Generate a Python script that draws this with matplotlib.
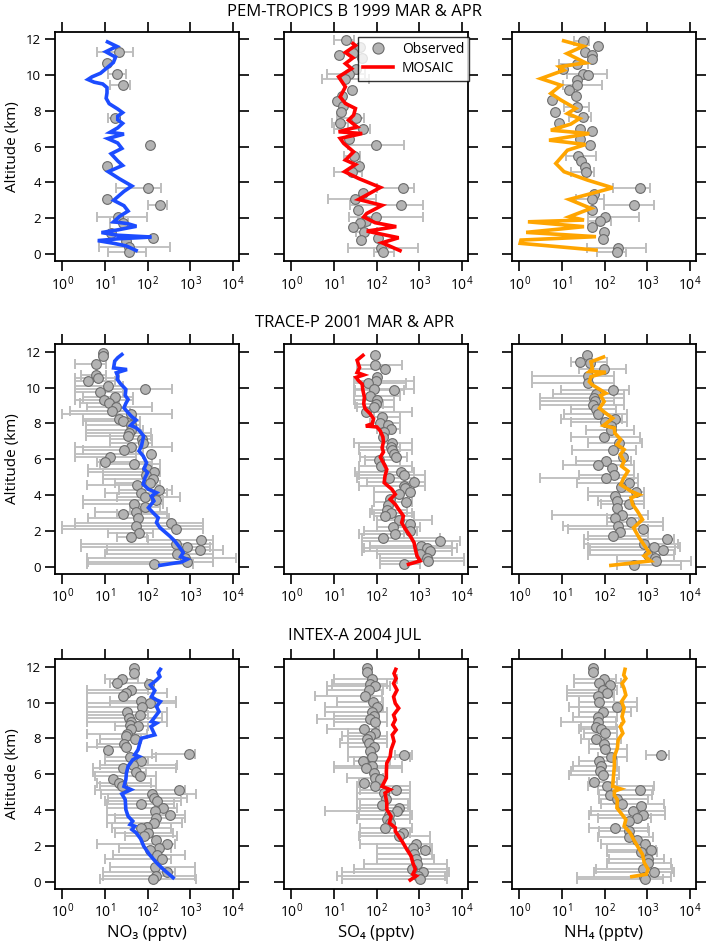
import numpy as np
import matplotlib
matplotlib.use("Agg")
import matplotlib.pyplot as plt
from matplotlib.ticker import NullLocator
from matplotlib.lines import Line2D

plt.rcParams['font.family'] = ['Open Sans', 'DejaVu Sans']
plt.rcParams['mathtext.default'] = 'regular'
plt.rcParams['mathtext.fontset'] = 'custom'
plt.rcParams['mathtext.rm'] = 'Open Sans'

nan = np.nan

# ---------------- Titles / labels ----------------
row_titles = ["PEM-TROPICS B 1999 MAR & APR", "TRACE-P 2001 MAR & APR", "INTEX-A 2004 JUL"]
col_labels = ["NO₃ (pptv)", "SO₄ (pptv)", "NH₄ (pptv)"]
model_colors = ["#1c4cff", "#ff0000", "#ffa500"]
x_ticks = [1, 10, 100, 1000, 10000]
y_ticks = [0, 2, 4, 6, 8, 10, 12]

# ================= PEM-TROPICS B =================
pem_no3_alt = [11.29, 10.68, 10.07, 9.45, 7.61, 6.08, 4.91, 3.70, 3.05, 2.72, 2.07, 1.75, 1.19, 0.91, 0.74, 0.37, 0.09]
pem_no3_val = [22, 11, 19, 26, 17, 113, 11, 104, 11.4, 194, 20, 26, 14, 131, 32, 37, 37]
pem_no3_lo = [6.7, nan, 12, 13, 12, nan, nan, 18, nan, 100, 6.7, 13, nan, nan, nan, 7.2, 12]
pem_no3_hi = [45, nan, 31, 39, 23, nan, nan, 212, nan, 280, 95, 35, nan, nan, nan, 333, 91]
pem_no3_mod_alt = [11.85, 11.6, 11.3, 11.0, 10.7, 10.4, 10.1, 9.9, 9.75, 9.6, 9.5, 9.3, 9.0, 8.7, 8.4, 8.1, 7.9, 7.7, 7.5, 7.3, 7.05, 6.8, 6.7, 6.45, 6.2, 5.9, 5.6, 5.2, 4.95, 4.6, 4.2, 3.8, 3.5, 3.2, 3.0, 2.7, 2.4, 2.1, 1.8, 1.7, 1.55, 1.35, 1.2, 1.05, 0.95, 0.85, 0.75, 0.6, 0.45, 0.2]
pem_no3_mod_val = [11.5, 19, 10.5, 17.8, 15.8, 11.2, 7.9, 5.0, 4.0, 5.6, 8.9, 11.2, 11.2, 10.7, 12.6, 20, 26, 20, 20, 26, 20, 13.2, 28, 11.7, 20, 25, 14, 20, 26, 12, 22, 43, 28, 20, 16, 28, 35, 22, 16, 34, 55, 20, 8.3, 20, 123, 20, 6.8, 16, 32, 54]

pem_so4_alt = [11.94, 11.57, 11.24, 11.14, 10.96, 10.36, 10.08, 9.75, 9.15, 8.84, 8.56, 8.26, 7.94, 7.61, 7.33, 7.01, 6.42, 6.08, 5.49, 4.93, 4.60, 3.70, 3.39, 3.05, 2.72, 2.44, 2.07, 1.84, 1.75, 1.51, 1.25, 0.91, 0.78, 0.32, 0.13]
pem_so4_val = [19.5, 40, 28, 13, 46, 33, 23, 18.5, 26.5, 15.4, 11.7, 16.3, 14.8, 33, 14, 48, 23, 98, 29, 39, 26, 415, 48, 32, 380, 36, 96, 57, 41, 28, 52, 107, 44, 126, 145]
pem_so4_lo = [9.8, nan, nan, nan, nan, nan, 6.9, 5.2, nan, nan, nan, nan, nan, 11.7, 8.9, 9.8, nan, 22, 17, nan, 9.8, 100, nan, 7.1, 24, nan, 23, 36, nan, nan, 33, nan, nan, 22, 85]
pem_so4_hi = [29, nan, nan, nan, nan, nan, 54, 68, nan, nan, nan, nan, nan, 50, 22, 71, nan, 450, 42, nan, 46, 740, nan, 95, 1230, nan, 1230, 70, nan, nan, 100, nan, nan, 950, 250]
pem_so4_mod_alt = [11.76, 11.65, 11.26, 10.96, 10.64, 10.36, 9.9, 9.34, 8.78, 8.41, 8.13, 7.76, 7.48, 7.1, 6.83, 6.73, 6.46, 6.18, 5.71, 5.25, 5.0, 4.6, 4.22, 3.72, 3.05, 2.72, 2.27, 2.07, 1.75, 1.53, 1.28, 0.91, 0.63, 0.19]
pem_so4_mod_val = [28, 32, 18.6, 28, 18.6, 26, 12.9, 18.6, 14, 18.6, 32, 29, 22, 35, 12.9, 46, 14, 17, 29, 18.6, 32, 17.8, 38, 123, 38, 135, 59, 50, 93, 290, 59, 330, 135, 355]

pem_nh4_alt = [11.91, 11.61, 11.29, 11.11, 10.92, 10.64, 10.36, 10.08, 10.0, 9.71, 9.43, 9.15, 8.82, 8.60, 8.22, 7.94, 7.63, 7.33, 7.01, 6.88, 6.40, 6.08, 5.49, 5.19, 4.87, 4.56, 3.70, 3.35, 3.05, 2.72, 2.46, 2.07, 1.84, 1.53, 1.21, 0.82, 0.32, 0.13]
pem_nh4_val = [32, 69, 35, 50, 52, 23, 10.4, 32, 42, 23, 23, 15, 21, 6.0, 23, 7.0, 32, 8.7, 27, 50, 26, 46, 24.5, 28, 35, 36, 690, 57, 50, 500, 52, 104, 79, 50, 95, 90, 209, 200]
pem_nh4_lo = [19.5, nan, nan, nan, nan, 8.7, nan, 13, nan, nan, 10.5, nan, nan, nan, 11.2, nan, 14.8, nan, nan, nan, nan, nan, 12.3, nan, nan, 16, 155, nan, 21, 98, nan, 40, 42, nan, nan, nan, 39, 66]
pem_nh4_hi = [44, nan, nan, nan, nan, 40, nan, 117, nan, nan, 87, nan, nan, nan, 43, nan, 48, nan, nan, nan, nan, nan, 63, nan, nan, 58, 1170, nan, 98, 1410, nan, 630, 141, nan, nan, nan, 930, 316]
pem_nh4_mod_alt = [11.91, 11.61, 11.2, 10.68, 10.46, 10.27, 9.8, 9.43, 8.97, 8.6, 8.13, 7.85, 7.57, 7.26, 6.92, 6.73, 6.36, 6.12, 5.80, 5.06, 4.6, 4.13, 3.70, 3.05, 2.55, 2.08, 1.90, 1.80, 1.53, 1.21, 0.97, 0.78, 0.60, 0.22]
pem_nh4_mod_val = [11, 32, 13.2, 36, 8.7, 11.2, 3.2, 9.5, 5.5, 9.5, 21, 13.5, 26, 16.2, 5.5, 44, 5.0, 36, 13.5, 7.2, 11.2, 40, 155, 14.8, 48, 14.8, 33, 1.6, 33, 1.45, 63, 1.1, 1.05, 63]

# ================= TRACE-P =================
trp_no3_alt = [11.91, 11.76, 11.33, 10.73, 10.55, 10.36, 10.08, 9.93, 9.75, 9.47, 9.30, 9.12, 8.91, 8.69, 8.54, 8.26, 8.13, 7.91, 7.61, 7.48, 7.29, 7.11, 6.92, 6.70, 6.51, 6.31, 6.12, 5.86, 5.75, 5.47, 5.28, 5.12, 4.91, 4.69, 4.56, 4.28, 4.13, 3.91, 3.72, 3.52, 3.35, 3.07, 2.92, 2.70, 2.46, 2.27, 2.08, 1.90, 1.67, 1.49, 1.25, 1.10, 0.93, 0.69, 0.50, 0.28, 0.13]
trp_no3_val = [9.1, 9.1, 6.2, 6.3, 7, 4.1, 12, 87, 7.6, 17, 9.5, 12.6, 18, 15, 41, 22, 27, 41, 41, 37, 34, 76, 79, 42, 28, 120, 13, 10, 48, 95, 141, 91, 135, 113, 57, 186, 70, 89, 162, 48, 87, 55, 26, 59, 346, 54, 460, 64, 42, 1750, 460, 850, 1700, 500, 760, 820, 141]
trp_no3_lo = [nan, nan, 2.0, 2.8, 2.0, 2.0, 2.0, 2.0, 2.0, 3.0, 2.0, 2.6, 3.9, 1.5, 1.0, 3.1, 3.1, 3.6, 3.6, 3.6, 3.6, 13, 13, 2.0, 3.1, 2.0, 2.0, 6.4, 7.6, 4.1, 4.1, 9.1, 9.1, 17, 3.9, 22, 10, 19, 3.0, 3.0, 38, 5.8, 19, 4.0, 2.0, 1.0, 1.0, 12, 19, 100, 2.8, 2.8, 11, 10, 3.9, 4.0, 3.9]
trp_no3_hi = [nan, nan, 10.6, 10.6, 22, 17, 27, 380, 27, 46, 46, 22, 130, 39, 380, 55, 66, 66, 79, 123, 123, 128, 130, 380, 55, 79, 55, 130, 195, 195, 195, 162, 162, 135, 195, 367, 280, 570, 230, 230, 195, 280, 280, 320, 2000, 2000, 2000, 135, 95, 3500, 3500, 2900, 6000, 3500, 12000, 3500, 1170]
trp_no3_mod_alt = [11.85, 11.67, 11.48, 11.10, 11.01, 10.83, 10.64, 10.46, 10.23, 9.90, 9.56, 9.34, 9.12, 8.87, 8.60, 8.37, 8.19, 8.04, 7.89, 7.76, 7.57, 7.29, 7.01, 6.73, 6.46, 6.18, 5.80, 5.47, 5.25, 4.97, 4.60, 4.32, 4.13, 3.94, 3.67, 3.29, 3.01, 2.73, 2.46, 2.18, 1.71, 1.43, 1.06, 0.78, 0.56, 0.41, 0.26, 0.07]
trp_no3_mod_val = [25, 20, 17, 16, 33, 18.6, 20, 19.5, 23, 31, 30, 35, 31, 28, 35, 43, 54, 46, 40, 54, 66, 81, 76, 72, 63, 79, 95, 83, 100, 87, 79, 105, 162, 123, 141, 105, 135, 178, 162, 195, 330, 435, 575, 690, 600, 850, 630, 195]

trp_so4_alt = [11.80, 11.24, 11.02, 10.61, 10.36, 10.27, 9.95, 9.84, 9.55, 9.29, 9.11, 8.90, 8.62, 8.34, 8.02, 7.93, 7.69, 7.50, 7.25, 6.91, 6.69, 6.49, 6.31, 6.12, 5.96, 5.62, 5.28, 5.11, 4.97, 4.72, 4.50, 4.42, 4.15, 4.06, 3.80, 3.60, 3.47, 3.16, 2.97, 2.82, 2.58, 2.40, 2.21, 1.99, 1.81, 1.62, 1.43, 1.16, 1.03, 0.88, 0.70, 0.50, 0.32, 0.13]
trp_so4_val = [90, 90, 155, 102, 98, 63, 89, 263, 71, 102, 98, 89, 57, 134, 123, 190, 218, 152, 145, 230, 220, 230, 250, 283, 112, 126, 380, 430, 200, 740, 430, 470, 615, 345, 210, 500, 190, 173, 220, 155, 330, 615, 240, 615, 275, 138, 3100, 1100, 1500, 1800, 1050, 1500, 1650, 445]
trp_so4_lo = [nan, 35, 38, nan, 29, 30, 29, 32, 29, 29, 32, 35, 50, 85, 71, nan, 102, nan, nan, 29, 38, 38, nan, 41, 54, 38, 32, 38, 35, 59, 38, nan, 85, nan, nan, 85, nan, 78, 71, 85, 102, nan, 102, 50, 38, 45, 45, 71, 50, 45, 102, 122, 122, 122]
trp_so4_hi = [nan, 390, 170, nan, 740, 500, 740, 430, 355, 250, 145, 250, 675, 355, 355, nan, 355, nan, nan, 675, 355, 675, nan, 510, 355, 675, 740, 1380, 740, 1380, 1380, nan, 740, nan, nan, 675, nan, 510, 675, 740, 1990, nan, 1050, 890, 430, 3100, 9100, 5800, 7600, 5800, 1800, 11000, 11000, 1050]
trp_so4_mod_alt = [11.80, 11.53, 11.12, 10.84, 10.71, 10.57, 10.38, 10.20, 9.84, 9.47, 9.10, 8.82, 8.54, 8.26, 7.98, 7.86, 7.80, 7.57, 7.24, 6.96, 6.64, 6.40, 6.12, 5.80, 5.43, 5.06, 4.69, 4.32, 4.04, 3.76, 3.48, 3.20, 2.83, 2.46, 2.12, 1.71, 1.34, 0.97, 0.60, 0.32, 0.13]
trp_so4_mod_val = [48, 35, 40, 35, 50, 33, 38, 46, 48, 52, 50, 54, 71, 85, 79, 56, 102, 123, 141, 145, 135, 145, 123, 145, 174, 158, 151, 229, 275, 209, 275, 330, 427, 389, 468, 617, 759, 813, 891, 1050, 562]

trp_nh4_alt = [11.85, 11.44, 11.39, 11.02, 10.65, 10.27, 9.84, 9.62, 9.40, 9.25, 9.01, 8.79, 8.51, 8.23, 8.08, 7.86, 7.61, 7.24, 6.91, 6.54, 6.13, 5.89, 5.67, 5.52, 5.11, 4.93, 4.69, 4.45, 4.16, 3.94, 3.66, 3.52, 3.29, 2.88, 2.73, 2.49, 2.27, 2.12, 1.93, 1.69, 1.53, 1.25, 1.10, 0.93, 0.63, 0.50, 0.32, 0.09]
trp_nh4_val = [39, 26, 46, 98, 42, 40, 162, 63, 58, 61, 55, 63, 72, 178, 102, 141, 145, 95, 220, 162, 275, 107, 72, 148, 168, 107, 380, 240, 540, 178, 196, 380, 196, 263, 178, 415, 209, 780, 235, 162, 2900, 850, 1450, 2300, 1020, 1500, 1600, 500]
trp_nh4_lo = [nan, 16, nan, 25, 2.0, 2.0, 9.5, 6.3, 3.0, 3.0, 3.0, 16, 11, 9.5, 16, nan, 37, 16, 42, 17.5, nan, 22, 10.4, nan, 25, 3.0, 23, nan, 40, 40, 69, 83, nan, 6.0, 117, 117, 10.4, 14, nan, 40, 33, 33, 42, 46, 40, nan, 200, 200]
trp_nh4_hi = [nan, 117, nan, 316, 168, 168, 380, 290, 290, 168, 290, 190, 345, 250, 345, nan, 500, 680, 760, 560, nan, 420, 500, nan, 500, 610, 610, nan, 850, 850, 850, 850, nan, 1020, 660, 2300, 2300, 1020, nan, 1020, 4300, 5300, 5800, 4600, 4300, nan, 10500, 6200]
trp_nh4_mod_alt = [11.71, 11.44, 11.07, 10.90, 10.86, 10.61, 10.33, 10.15, 9.69, 9.56, 9.22, 8.85, 8.57, 8.29, 7.89, 7.74, 7.46, 7.10, 6.82, 6.54, 6.26, 5.89, 5.61, 5.33, 4.96, 4.58, 4.21, 4.02, 3.84, 3.47, 3.10, 2.63, 2.17, 1.62, 1.06, 0.78, 0.60, 0.32, 0.07]
trp_nh4_mod_val = [95, 48, 52, 44, 107, 48, 44, 52, 107, 81, 98, 76, 107, 155, 95, 170, 174, 240, 195, 288, 234, 288, 251, 355, 282, 240, 417, 646, 417, 457, 589, 776, 479, 646, 933, 1120, 850, 1200, 141]

# ================= INTEX-A =================
itx_no3_alt = [11.91, 11.67, 11.30, 11.11, 11.02, 10.70, 10.56, 10.37, 10.11, 9.96, 9.74, 9.50, 9.31, 9.13, 8.91, 8.76, 8.70, 8.53, 8.24, 8.14, 7.96, 7.68, 7.51, 7.37, 7.12, 6.96, 6.72, 6.53, 6.35, 6.12, 5.92, 5.75, 5.51, 5.32, 5.14, 4.90, 4.68, 4.53, 4.34, 4.12, 3.93, 3.71, 3.53, 3.28, 3.06, 2.97, 2.73, 2.54, 2.30, 2.13, 1.89, 1.76, 1.48, 1.24, 0.83, 0.56, 0.32, 0.17]
itx_no3_val = [49, 49, 25, 19.5, 110, 40, 31, 27, 72, 113, 76, 33, 66, 37, 42, 39, 60, 41, 33, 32, 50, 28, 31, 12, 930, 39, 72, 46, 27, 54, 66, 15.8, 21, 25, 540, 124, 141, 171, 72, 225, 148, 345, 162, 144, 95, 72, 104, 82, 162, 290, 188, 113, 171, 214, 148, 280, 158, 132]
itx_no3_lo = [nan, nan, 10, 13, nan, 3.9, 3.9, nan, 13, 3.9, 3.9, 3.9, 3.9, 3.9, 3.9, nan, 17, nan, 3.9, nan, 7.6, 6.4, 3.9, nan, 124, 10, 10, 7.6, 5.2, 5.2, 6.0, nan, 6.4, 7.6, 6.0, 8.3, 12, 10, 11, 11, nan, 11, 17, 11, nan, 15, 17, 30, nan, 6.4, 22, nan, 15.7, 10, 13, 9, 9, 7.6]
itx_no3_hi = [nan, nan, 60, 95, nan, 104, 280, nan, 460, 460, 170, 280, 104, 215, 280, nan, 104, nan, 95, nan, 72, 35, 35, nan, 1290, 162, 104, 480, 460, 90, 162, nan, 120, 162, 750, 1400, 850, 600, 420, 500, nan, 750, 750, 640, nan, 350, 400, 480, nan, 440, 350, nan, 750, 350, 1290, 450, 1290, 1400]
itx_no3_mod_alt = [11.86, 11.67, 11.45, 11.26, 10.98, 10.67, 10.33, 10.15, 10.06, 9.78, 9.50, 8.94, 8.85, 8.66, 8.20, 8.01, 7.74, 7.37, 7.09, 6.99, 6.81, 6.44, 6.07, 5.70, 5.32, 5.14, 4.90, 4.58, 4.03, 3.65, 3.38, 3.19, 3.10, 2.91, 2.73, 2.39, 1.99, 1.52, 1.06, 0.69, 0.22]
itx_no3_mod_val = [200, 178, 195, 162, 117, 148, 123, 162, 200, 162, 186, 123, 162, 120, 148, 72, 66, 60, 50, 63, 45, 35, 32, 31, 28, 41, 25, 30, 31, 35, 45, 39, 50, 43, 54, 69, 81, 110, 162, 234, 398]

itx_so4_alt = [11.91, 11.73, 11.30, 11.04, 10.93, 10.70, 10.39, 10.06, 9.78, 9.50, 9.26, 9.07, 8.89, 8.53, 8.29, 8.14, 7.96, 7.74, 7.51, 7.27, 7.09, 6.94, 6.72, 6.47, 6.35, 6.07, 5.79, 5.73, 5.51, 5.32, 5.14, 4.95, 4.62, 4.30, 4.12, 3.93, 3.71, 3.51, 3.28, 2.97, 2.73, 2.54, 2.12, 1.89, 1.74, 1.56, 1.24, 1.00, 0.69, 0.54, 0.32, 0.17]
itx_so4_val = [59, 59, 78, 71, 93, 65, 54, 82, 102, 78, 85, 71, 93, 50, 93, 71, 59, 65, 89, 71, 430, 78, 48, 78, 57, 89, 93, 122, 50, 93, 283, 146, 169, 134, 340, 300, 200, 173, 210, 155, 415, 330, 830, 710, 1380, 740, 850, 890, 675, 1260, 960, 1020]
itx_so4_lo = [nan, nan, 9.8, 9, 6.8, 6.8, 3.7, 11.7, 6.3, 6.3, 9.8, 4, 9.8, 6.8, 22, 15.4, 22, 14, 22, nan, 275, 22, 29, 9.8, 9.8, nan, 20, nan, 38, 35, 41, 35, 35, 41, 35, 6.3, 38, 35, nan, 41, 41, 38, 41, 102, nan, 102, 102, 50, 29, 15.4, 11.7, 15.4]
itx_so4_hi = [nan, nan, 300, 174, 210, 145, 134, 145, 145, 174, 112, 112, 174, 112, 112, 174, 174, 174, 102, nan, 675, 615, 210, 390, 390, nan, 145, nan, 145, 615, 615, 615, 615, 560, 615, 615, 675, 615, nan, 675, 615, 1800, 1800, 2000, nan, 2000, 2200, 4450, 4450, 4900, 4100, 4450]
itx_so4_mod_alt = [11.86, 11.63, 11.35, 11.07, 10.70, 10.33, 9.96, 9.69, 9.31, 9.04, 8.76, 8.48, 8.20, 7.83, 7.37, 6.99, 6.62, 6.16, 5.79, 5.32, 5.14, 4.95, 4.40, 4.03, 3.65, 3.28, 3.01, 2.82, 2.54, 2.17, 1.80, 1.43, 1.06, 0.69, 0.41, 0.32, 0.09]
itx_so4_mod_val = [282, 257, 288, 251, 302, 251, 275, 331, 251, 275, 240, 288, 234, 257, 219, 209, 174, 170, 170, 135, 209, 158, 174, 174, 219, 200, 275, 275, 331, 417, 513, 646, 708, 813, 708, 851, 617]

itx_nh4_alt = [11.91, 11.69, 11.30, 11.08, 10.98, 10.70, 10.52, 10.39, 10.06, 9.74, 9.50, 9.18, 8.89, 8.66, 8.52, 8.29, 7.96, 7.70, 7.42, 7.09, 6.94, 6.72, 6.44, 6.16, 5.94, 5.55, 5.32, 5.14, 4.86, 4.62, 4.34, 4.21, 3.93, 3.75, 3.56, 3.38, 2.97, 2.82, 2.50, 2.32, 2.13, 1.76, 1.65, 1.28, 1.06, 0.72, 0.54, 0.28, 0.17]
itx_nh4_val = [55, 55, 98, 75, 135, 90, 113, 69, 75, 200, 90, 71, 69, 63, 82, 102, 63, 95, 102, 2090, 141, 75, 82, 79, 90, 57, 117, 690, 135, 200, 263, 710, 455, 815, 575, 365, 174, 380, 365, 575, 890, 1230, 710, 1020, 1020, 815, 1410, 850, 890]
itx_nh4_lo = [nan, nan, 19.5, 19.5, nan, 13, 13, 13.5, 25.5, 14.8, 25.5, 17.8, 9.5, 28, 25.5, 33, 28, 44, 44, 930, 69, 25.5, 17.8, 16.3, 14.8, 44, 40, 69, 75, 75, 82, nan, 48, 44, 69, nan, 44, 75, 72, nan, 82, 117, 117, 129, 117, 63, 57, 23, 23]
itx_nh4_hi = [nan, nan, 185, 240, nan, 200, 155, 168, 590, 590, 415, 200, 185, 240, 200, 200, 240, 200, 345, 3170, 345, 200, 200, 220, 220, 200, 1450, 1350, 1300, 1020, 2500, nan, 2600, 2600, 1230, nan, 1020, 1120, 1350, nan, 1020, 1600, 1740, 2500, 3550, 3900, 4300, 3550, 2300]
itx_nh4_mod_alt = [11.86, 11.54, 11.35, 11.07, 10.79, 10.42, 10.06, 9.69, 9.22, 8.94, 8.66, 8.29, 7.92, 7.46, 6.99, 6.44, 5.88, 5.32, 5.18, 5.05, 4.81, 4.58, 4.12, 3.47, 3.10, 2.73, 2.36, 1.99, 1.52, 1.06, 0.69, 0.41, 0.28]
itx_nh4_mod_val = [302, 282, 316, 257, 288, 316, 251, 288, 257, 282, 234, 269, 209, 200, 170, 170, 162, 155, 240, 170, 170, 200, 195, 316, 288, 398, 479, 589, 776, 851, 1047, 955, 437]

panels = [
    [(pem_no3_alt, pem_no3_val, pem_no3_lo, pem_no3_hi, pem_no3_mod_alt, pem_no3_mod_val),
     (pem_so4_alt, pem_so4_val, pem_so4_lo, pem_so4_hi, pem_so4_mod_alt, pem_so4_mod_val),
     (pem_nh4_alt, pem_nh4_val, pem_nh4_lo, pem_nh4_hi, pem_nh4_mod_alt, pem_nh4_mod_val)],
    [(trp_no3_alt, trp_no3_val, trp_no3_lo, trp_no3_hi, trp_no3_mod_alt, trp_no3_mod_val),
     (trp_so4_alt, trp_so4_val, trp_so4_lo, trp_so4_hi, trp_so4_mod_alt, trp_so4_mod_val),
     (trp_nh4_alt, trp_nh4_val, trp_nh4_lo, trp_nh4_hi, trp_nh4_mod_alt, trp_nh4_mod_val)],
    [(itx_no3_alt, itx_no3_val, itx_no3_lo, itx_no3_hi, itx_no3_mod_alt, itx_no3_mod_val),
     (itx_so4_alt, itx_so4_val, itx_so4_lo, itx_so4_hi, itx_so4_mod_alt, itx_so4_mod_val),
     (itx_nh4_alt, itx_nh4_val, itx_nh4_lo, itx_nh4_hi, itx_nh4_mod_alt, itx_nh4_mod_val)],
]

W, H = 709, 952
fig = plt.figure(figsize=(W / 100, H / 100), dpi=100)

col_left = [55, 284, 512]
row_top = [31.7, 344.3, 659.3]
aw, ah = 184, 229.5
title_y = [12, 323, 636]

err_color = "#bdbdbd"
mfc = "#b3b3b3"
mec = "#6b6b6b"

for r in range(3):
    fig.text(0.5, 1 - title_y[r] / H, row_titles[r], ha="center", va="center", fontsize=12)
    for c in range(3):
        alt, val, lo, hi, malt, mval = panels[r][c]
        ax = fig.add_axes([col_left[c] / W, 1 - (row_top[r] + ah) / H, aw / W, ah / H])
        alt = np.array(alt); val = np.array(val)
        lo = np.array(lo, dtype=float); hi = np.array(hi, dtype=float)
        m = ~np.isnan(lo)
        ax.hlines(alt[m], lo[m], hi[m], color=err_color, lw=1.3, zorder=1)
        ax.plot(lo[m], alt[m], ls="none", marker="|", ms=6.5, mew=1.4, color=err_color, zorder=1)
        ax.plot(hi[m], alt[m], ls="none", marker="|", ms=6.5, mew=1.4, color=err_color, zorder=1)
        ax.plot(val, alt, ls="none", marker="o", ms=7, mfc=mfc, mec=mec, mew=0.8, zorder=2)
        ax.plot(mval, malt, color=model_colors[c], lw=2.6, zorder=3, solid_joinstyle="miter")
        ax.set_xscale("log")
        ax.set_xlim(0.676, 13960)
        ax.set_ylim(-0.4, 12.42)
        ax.set_xticks(x_ticks)
        ax.xaxis.set_minor_locator(NullLocator())
        ax.set_yticks(y_ticks)
        ax.tick_params(direction="out", length=7, width=1.2, top=True, right=True,
                       labelsize=10, colors="black", pad=3)
        ax.tick_params(axis="y", labelsize=9.5)
        for s in ax.spines.values():
            s.set_linewidth(1.3)
        if c != 0:
            ax.tick_params(labelleft=False)
        else:
            ax.set_ylabel("Altitude (km)", fontsize=11, labelpad=4)
        if r == 2:
            ax.set_xlabel(col_labels[c], fontsize=12, labelpad=3)
        if r == 0 and c == 1:
            handles = [Line2D([], [], ls="none", marker="o", ms=8, mfc=mfc, mec=mec, mew=0.8),
                       Line2D([], [], color=model_colors[1], lw=2.6)]
            leg = ax.legend(handles, ["Observed", "MOSAIC"], loc="upper right",
                            bbox_to_anchor=(1.005, 0.975), fontsize=10, frameon=True,
                            fancybox=False, borderaxespad=0, handlelength=2.2,
                            handletextpad=0.6, borderpad=0.35, labelspacing=0.25)
            leg.get_frame().set_edgecolor("black")
            leg.get_frame().set_linewidth(1.0)

fig.savefig("out.png", dpi=100)
